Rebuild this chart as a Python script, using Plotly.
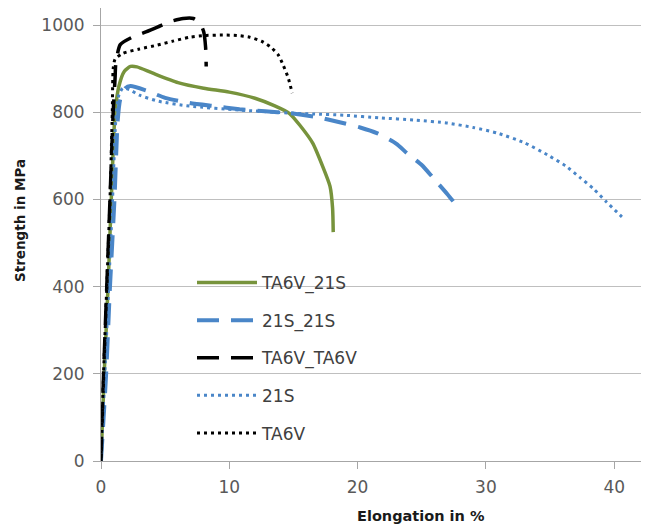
import plotly.graph_objects as go

# TA6V_21S (green solid)
ta6v_21s_x = [0, 0.25, 0.55, 0.8, 1.1, 1.4, 1.8, 2.3, 2.8, 4, 6, 8, 10, 12, 13.5, 14.7, 15.5, 16.5, 17.3, 17.85, 18.05, 18.1]
ta6v_21s_y = [0, 200, 400, 600, 800, 860, 893, 905, 904, 890, 868, 855, 846, 832, 815, 797, 770, 729, 674, 630, 580, 525]

# 21S_21S (blue long dash)
s21_21s_x = [0, 0.4, 0.7, 1.05, 1.3, 1.5, 1.9, 2.3, 3.5, 5, 6.9, 8.8, 10.8, 12.8, 14.7, 16.8, 18.6, 20.2, 21.5, 23.0, 23.85, 25.0, 25.9, 27.0, 27.75]
s21_21s_y = [0, 200, 400, 600, 780, 830, 855, 860, 850, 833, 821, 814, 807, 802, 798, 789, 777, 765, 752, 728, 706, 679, 649, 612, 585]

# TA6V_TA6V (black long dash)
ta6v_ta6v_x = [0, 0.2, 0.45, 0.7, 0.95, 1.1, 1.15, 1.5, 2.5, 3.5, 4.4, 5.4, 6.4, 7.2, 7.7, 8.0, 8.15, 8.2]
ta6v_ta6v_y = [0, 200, 400, 600, 800, 880, 910, 955, 973, 984, 995, 1008, 1015, 1015, 1005, 985, 950, 905]

# 21S (blue dotted)
s21_x = [0, 0.3, 0.6, 0.9, 1.15, 1.4, 1.7, 2.2, 3.0, 4.5, 6.9, 10.8, 14.7, 16.5, 19, 21.7, 24.5, 27, 29, 30.9, 33, 34.8, 36.2, 37.3, 38.4, 39.4, 40.6]
s21_y = [0, 200, 400, 600, 780, 840, 855, 852, 839, 825, 814, 805, 798, 796, 793, 787, 782, 775, 765, 752, 730, 702, 677, 651, 624, 594, 560]

# TA6V (black dotted)
ta6v_x = [0, 0.2, 0.45, 0.7, 0.88, 0.95, 1.1, 1.7, 3.0, 4.4, 5.6, 6.9, 8.2, 9.5, 10.6, 11.6, 12.5, 13.2, 13.8, 14.2, 14.6, 14.9]
ta6v_y = [0, 200, 400, 600, 800, 900, 922, 935, 945, 954, 963, 972, 976, 977, 976, 972, 963, 950, 932, 908, 878, 844]

x_ticks = [0, 10, 20, 30, 40]
y_ticks = [0, 200, 400, 600, 800, 1000]

fig = go.Figure()
series = [
    ("TA6V_21S", ta6v_21s_x, ta6v_21s_y, "#77933C", "solid", 3.5),
    ("21S_21S", s21_21s_x, s21_21s_y, "#4A86C8", "22px,12px", 4),
    ("TA6V_TA6V", ta6v_ta6v_x, ta6v_ta6v_y, "#000000", "22px,12px", 3.5),
    ("21S", s21_x, s21_y, "#4A86C8", "3px,4px", 3),
    ("TA6V", ta6v_x, ta6v_y, "#000000", "3px,4px", 3),
]
for name, xs, ys, col, dash, w in series:
    fig.add_trace(go.Scatter(x=xs, y=ys, mode="lines", name=name, legendgroup=name,
                             line=dict(color=col, dash=dash, width=w, shape="spline", smoothing=0.6)))

# page has an 8px body margin; figure coordinates = page - 8
OFF = 8
W, H = 649 - OFF, 527 - OFF
L, R, T, B = 101 - OFF, 4, 0, 66
pw, ph = W - L - R, H - T - B
X0, YB = 101, 461  # page pixel of plot left / bottom


def px(xp):
    return (xp - X0) / pw


def py(yp):
    return (YB - yp) / ph


fig.update_layout(
    width=W, height=H,
    margin=dict(l=L, r=R, t=T, b=B, autoexpand=False),
    paper_bgcolor="white", plot_bgcolor="white",
    font=dict(family="DejaVu Sans, sans-serif", size=17, color="#595959"),
    showlegend=True,
    legend=dict(x=px(192), y=py(265), xanchor="left", yanchor="top",
                bgcolor="rgba(0,0,0,0)",
                font=dict(size=17, color="#404040"), tracegroupgap=12.5, itemwidth=60),
    xaxis=dict(range=[0, 42.4], tickvals=x_ticks, showgrid=False, zeroline=False, automargin=False,
               showline=True, linecolor="#A6A6A6", linewidth=1, ticks="outside",
               ticklen=7, tickcolor="#A6A6A6", ticklabelstandoff=4,
               tickfont=dict(size=17, color="#595959")),
    yaxis=dict(range=[0, 1039], tickvals=y_ticks, showgrid=True, gridcolor="#BFBFBF", gridwidth=1,
               zeroline=False, automargin=False, showline=True, linecolor="#A6A6A6", linewidth=1,
               ticks="outside", ticklen=7, tickcolor="#A6A6A6", ticklabelstandoff=5,
               tickfont=dict(size=17, color="#595959")),
    annotations=[
        dict(text="<b>Elongation in %</b>", x=px(421), y=py(516), xref="paper", yref="paper",
             xanchor="center", yanchor="middle",
             showarrow=False, font=dict(size=14.5, color="#1a1a1a")),
        dict(text="<b>Strength in MPa</b>", x=px(20), y=py(221), xref="paper", yref="paper",
             xanchor="center", yanchor="middle",
             showarrow=False, textangle=-90, font=dict(size=13.5, color="#1a1a1a")),
    ],
)
fig.write_html("out.html")
